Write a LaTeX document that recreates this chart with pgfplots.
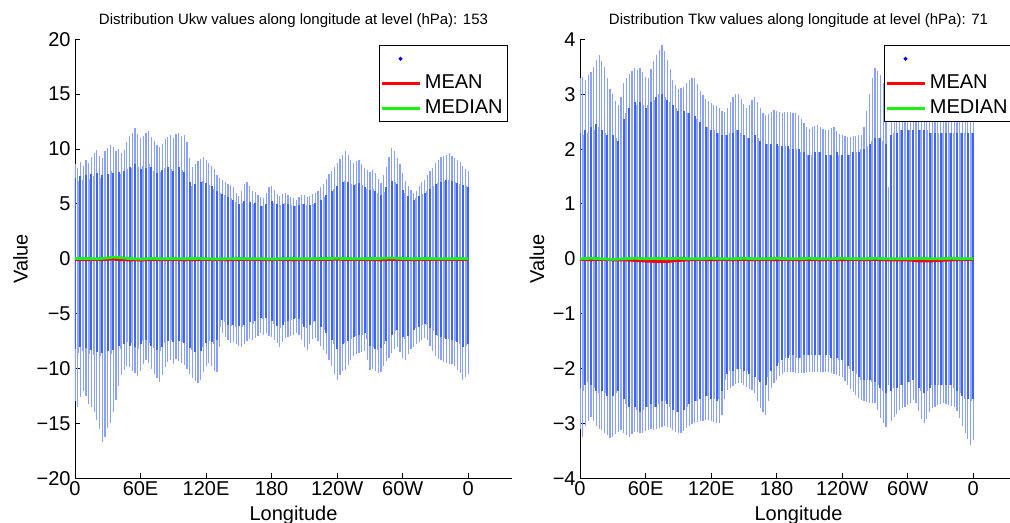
\documentclass[border=0pt]{standalone}
\usepackage{pgfplots}
\pgfplotsset{compat=1.18}
\usepackage{pgfplotstable}
\usepackage{fontspec}
\setmainfont{Liberation Sans}

\definecolor{dotfar}{RGB}{140,160,255}
\definecolor{dotA}{RGB}{62,100,246}
\definecolor{dotB}{RGB}{145,165,252}
\definecolor{mlred}{RGB}{255,0,0}
\definecolor{mlgreen}{RGB}{30,240,20}

\newcommand{\tickfont}{\fontsize{10bp}{12bp}\selectfont}
\newcommand{\titlefont}{\fontsize{7.5bp}{9bp}\selectfont}

% per longitude: outer max, dense top, dense bottom, outer min
\pgfplotstableread{
lon hi chi clo lo
0 8.6 7.4 -8.2 -13.0
2.5 8.3 7.1 -8.6 -13.5
5 8.8 7.5 -8.0 -12.6
7.5 8.5 7.2 -8.4 -12.0
10 9.0 7.6 -8.1 -12.5
12.5 8.7 7.3 -8.7 -13.2
15 9.3 7.7 -8.3 -13.5
17.5 9.6 7.5 -8.8 -14.0
20 9.9 7.8 -8.5 -14.7
22.5 9.4 7.4 -8.9 -15.5
25 9.2 7.6 -8.6 -16.7
27.5 9.8 7.9 -8.8 -16.2
30 10.1 7.7 -8.4 -15.4
32.5 10.4 8.0 -8.7 -15.0
35 10.2 7.8 -8.3 -14.0
37.5 9.8 7.6 -8.1 -12.9
40 10.0 7.9 -7.9 -11.6
42.5 9.6 7.7 -8.2 -10.6
45 9.9 8.0 -7.8 -10.1
47.5 10.6 8.2 -7.6 -9.8
50 11.2 8.4 -7.9 -9.9
52.5 11.5 8.3 -7.7 -10.2
55 11.9 8.6 -8.0 -10.4
57.5 11.4 8.4 -8.2 -10.7
60 11.0 8.2 -7.8 -10.2
62.5 11.2 8.5 -7.5 -9.6
65 11.5 8.3 -7.4 -9.2
67.5 11.6 8.6 -7.7 -9.5
70 11.1 8.4 -7.9 -10.0
72.5 10.7 8.0 -8.1 -10.5
75 10.4 7.8 -8.3 -10.9
77.5 10.2 7.9 -8.4 -11.2
80 10.5 8.1 -8.0 -10.6
82.5 10.9 8.3 -7.7 -9.9
85 11.1 8.4 -7.5 -9.4
87.5 11.3 8.2 -7.4 -9.2
90 11.0 8.0 -7.6 -9.6
92.5 11.4 8.3 -7.3 -9.1
95 11.5 8.4 -7.5 -9.3
97.5 11.2 8.1 -7.6 -9.5
100 11.3 7.9 -7.7 -9.7
102.5 10.6 7.5 -7.9 -10.0
105 9.2 7.0 -8.1 -10.5
107.5 8.4 6.6 -8.3 -10.9
110 8.6 6.8 -8.5 -11.1
112.5 8.9 6.9 -8.6 -11.3
115 9.1 7.0 -8.4 -11.0
117.5 9.3 7.1 -8.0 -10.3
120 9.0 6.9 -7.7 -9.8
122.5 8.7 6.7 -7.5 -9.5
125 8.5 6.6 -7.6 -9.8
127.5 8.2 6.4 -7.8 -10.2
130 7.6 6.2 -7.4 -10.3
132.5 7.4 6.0 -6.2 -8.0
135 7.2 5.9 -5.6 -6.8
137.5 7.0 5.8 -5.8 -7.1
140 6.8 5.6 -6.0 -7.4
142.5 6.7 5.5 -6.1 -7.7
145 6.5 5.4 -6.0 -7.6
147.5 6.0 5.2 -6.2 -7.8
150 5.7 5.0 -6.1 -7.9
152.5 6.2 5.1 -6.2 -8.0
155 6.8 5.3 -6.0 -7.8
157.5 7.0 5.4 -5.9 -7.5
160 6.6 5.2 -5.8 -7.3
162.5 6.2 5.0 -5.9 -7.4
165 6.1 5.1 -5.7 -7.2
167.5 5.8 4.9 -5.6 -7.0
170 5.6 4.8 -5.4 -6.8
172.5 5.5 4.8 -5.5 -6.9
175 6.0 5.0 -5.4 -6.8
177.5 6.5 5.2 -5.6 -7.0
180 6.6 5.3 -5.7 -7.1
182.5 6.3 5.1 -5.9 -7.4
185 5.9 5.0 -6.1 -7.7
187.5 5.7 4.9 -6.3 -8.0
190 5.9 5.0 -6.0 -7.6
192.5 6.0 5.1 -5.8 -7.2
195 5.8 5.0 -5.7 -7.1
197.5 5.6 4.9 -5.6 -7.0
200 5.5 4.8 -5.5 -6.9
202.5 5.4 4.8 -5.4 -6.8
205 5.6 4.9 -5.5 -6.9
207.5 5.8 5.0 -5.9 -7.4
210 5.8 5.0 -6.2 -8.0
212.5 5.6 4.9 -6.3 -8.3
215 5.7 4.9 -6.0 -7.8
217.5 5.9 5.0 -5.8 -7.3
220 6.0 5.1 -5.7 -7.2
222.5 6.2 5.2 -5.9 -7.5
225 6.5 5.4 -6.2 -7.9
227.5 6.8 5.6 -6.5 -8.3
230 7.3 5.8 -6.8 -8.7
232.5 7.7 6.0 -7.1 -9.2
235 8.0 6.2 -7.4 -9.8
237.5 8.4 6.4 -7.8 -10.5
240 8.7 6.6 -8.2 -11.0
242.5 9.1 6.8 -8.0 -10.6
245 9.5 7.0 -7.8 -10.2
247.5 9.8 7.1 -7.7 -10.1
250 9.5 7.0 -7.5 -9.7
252.5 9.0 6.8 -7.3 -9.2
255 8.7 6.7 -7.1 -8.9
257.5 8.9 6.8 -7.0 -8.7
260 9.0 6.9 -6.9 -8.6
262.5 8.6 6.7 -6.9 -8.5
265 8.3 6.5 -6.8 -8.4
267.5 8.1 6.4 -7.3 -9.2
270 7.9 6.3 -7.9 -10.1
272.5 8.1 6.4 -8.0 -10.0
275 7.8 6.2 -8.2 -10.2
277.5 7.3 6.0 -8.3 -10.4
280 6.9 5.8 -8.1 -10.3
282.5 7.6 6.1 -7.8 -9.8
285 8.4 6.5 -7.5 -9.3
287.5 9.3 6.8 -7.2 -9.0
290 10.1 7.1 -6.9 -8.6
292.5 9.8 7.0 -6.6 -8.2
295 9.2 6.8 -6.5 -8.0
297.5 8.6 6.6 -6.8 -8.5
300 7.8 6.3 -7.1 -9.0
302.5 7.1 6.0 -7.3 -9.2
305 6.6 5.7 -7.0 -8.7
307.5 6.3 5.5 -6.7 -8.2
310 6.0 5.4 -6.5 -8.0
312.5 6.2 5.5 -6.3 -7.8
315 6.6 5.7 -6.2 -7.6
317.5 7.0 5.9 -6.0 -7.4
320 7.2 6.0 -5.9 -7.2
322.5 7.6 6.2 -6.0 -7.4
325 8.0 6.4 -6.3 -7.9
327.5 8.3 6.6 -6.6 -8.4
330 8.7 6.8 -6.9 -8.9
332.5 9.0 6.9 -7.0 -9.1
335 9.3 7.0 -7.1 -9.2
337.5 9.4 7.1 -7.2 -9.4
340 9.5 7.2 -7.3 -9.5
342.5 9.6 7.2 -7.3 -9.6
345 9.4 7.1 -7.4 -9.6
347.5 9.2 7.0 -7.5 -9.8
350 9.0 6.9 -7.6 -10.1
352.5 8.8 6.8 -7.8 -10.4
355 8.5 6.7 -8.0 -11.0
357.5 8.2 6.6 -7.9 -10.8
360 8.0 6.5 -7.8 -10.5
}\ukw

\pgfplotstableread{
lon hi chi clo lo
0 3.30 2.30 -2.35 -3.10
2.5 3.32 2.25 -2.40 -3.24
5 3.25 2.35 -2.30 -3.05
7.5 3.35 2.30 -2.25 -2.95
10 3.41 2.40 -2.30 -2.88
12.5 3.50 2.35 -2.35 -2.95
15 3.62 2.45 -2.40 -3.05
17.5 3.71 2.40 -2.45 -3.10
20 3.60 2.35 -2.40 -3.12
22.5 3.49 2.30 -2.45 -3.18
25 3.30 2.25 -2.50 -3.22
27.5 3.10 2.20 -2.55 -3.27
30 3.00 2.25 -2.50 -3.25
32.5 2.88 2.20 -2.45 -3.20
35 2.80 2.15 -2.40 -3.15
37.5 2.95 2.30 -2.45 -3.12
40 3.20 2.55 -2.55 -3.18
42.5 3.30 2.65 -2.65 -3.22
45 3.36 2.75 -2.70 -3.24
47.5 3.42 2.80 -2.75 -3.20
50 3.47 2.85 -2.70 -3.15
52.5 3.44 2.80 -2.75 -3.16
55 3.47 2.85 -2.80 -3.18
57.5 3.40 2.80 -2.75 -3.17
60 3.32 2.75 -2.70 -3.14
62.5 3.29 2.80 -2.70 -3.12
65 3.45 2.85 -2.65 -3.10
67.5 3.60 2.90 -2.70 -3.12
70 3.71 2.95 -2.70 -3.11
72.5 3.80 3.00 -2.65 -3.09
75 3.89 3.00 -2.60 -3.07
77.5 3.78 2.95 -2.60 -3.05
80 3.62 2.90 -2.65 -3.06
82.5 3.45 2.85 -2.70 -3.08
85 3.25 2.80 -2.75 -3.12
87.5 3.16 2.75 -2.80 -3.15
90 3.10 2.70 -2.80 -3.17
92.5 3.12 2.70 -2.80 -3.18
95 3.14 2.70 -2.75 -3.14
97.5 3.20 2.65 -2.70 -3.08
100 3.25 2.65 -2.65 -3.04
102.5 3.29 2.60 -2.65 -3.01
105 3.29 2.60 -2.60 -3.00
107.5 3.18 2.55 -2.60 -2.98
110 3.06 2.50 -2.55 -2.96
112.5 2.98 2.45 -2.55 -2.95
115 2.92 2.40 -2.50 -2.94
117.5 2.88 2.40 -2.50 -2.94
120 2.84 2.35 -2.55 -2.96
122.5 2.80 2.35 -2.55 -2.98
125 2.78 2.30 -2.60 -3.00
127.5 2.74 2.30 -2.55 -3.00
130 2.70 2.25 -2.40 -2.85
132.5 2.68 2.25 -2.20 -2.55
135 2.75 2.25 -2.10 -2.39
137.5 2.85 2.30 -2.05 -2.35
140 2.94 2.30 -2.05 -2.31
142.5 3.00 2.35 -2.00 -2.28
145 3.01 2.35 -2.00 -2.27
147.5 2.92 2.30 -2.00 -2.27
150 2.82 2.25 -2.05 -2.30
152.5 2.74 2.20 -2.05 -2.34
155 2.80 2.20 -2.10 -2.37
157.5 2.90 2.25 -2.10 -2.39
160 2.95 2.25 -2.15 -2.45
162.5 2.85 2.20 -2.20 -2.60
165 2.74 2.15 -2.25 -2.72
167.5 2.66 2.15 -2.30 -2.80
170 2.62 2.10 -2.30 -2.85
172.5 2.64 2.10 -2.15 -2.60
175 2.68 2.10 -2.05 -2.35
177.5 2.71 2.10 -2.00 -2.27
180 2.70 2.10 -1.95 -2.20
182.5 2.68 2.05 -1.90 -2.14
185 2.66 2.05 -1.85 -2.10
187.5 2.67 2.05 -1.80 -2.07
190 2.68 2.05 -1.80 -2.06
192.5 2.68 2.00 -1.75 -2.06
195 2.66 2.00 -1.75 -2.07
197.5 2.65 2.00 -1.80 -2.08
200 2.62 2.00 -1.80 -2.09
202.5 2.55 1.95 -1.80 -2.09
205 2.47 1.95 -1.75 -2.08
207.5 2.40 1.90 -1.75 -2.07
210 2.37 1.90 -1.75 -2.06
212.5 2.40 1.90 -1.75 -2.06
215 2.42 1.95 -1.75 -2.06
217.5 2.43 1.95 -1.75 -2.06
220 2.40 1.95 -1.75 -2.06
222.5 2.37 1.95 -1.75 -2.06
225 2.35 1.90 -1.75 -2.06
227.5 2.34 1.90 -1.75 -2.06
230 2.38 1.90 -1.80 -2.08
232.5 2.40 1.95 -1.80 -2.10
235 2.33 1.95 -1.80 -2.12
237.5 2.28 1.90 -1.85 -2.14
240 2.25 1.90 -1.85 -2.16
242.5 2.24 1.90 -1.90 -2.22
245 2.22 1.90 -1.95 -2.30
247.5 2.22 1.90 -2.00 -2.38
250 2.23 1.95 -2.05 -2.43
252.5 2.24 1.95 -2.10 -2.48
255 2.25 1.95 -2.15 -2.53
257.5 2.26 2.00 -2.20 -2.57
260 2.40 2.00 -2.20 -2.60
262.5 2.70 2.05 -2.20 -2.61
265 3.00 2.10 -2.20 -2.62
267.5 3.30 2.15 -2.25 -2.63
270 3.47 2.20 -2.25 -2.63
272.5 3.42 2.20 -2.30 -2.75
275 3.35 2.20 -2.35 -2.90
277.5 3.20 2.15 -2.40 -3.00
280 2.70 2.10 -2.45 -3.06
282.5 1.30 0 0 -2.30
285 2.60 2.25 -2.40 -2.95
287.5 2.70 2.30 -2.35 -2.88
290 2.75 2.30 -2.35 -2.82
292.5 2.78 2.35 -2.30 -2.76
295 2.80 2.35 -2.30 -2.72
297.5 2.82 2.35 -2.30 -2.70
300 2.84 2.35 -2.25 -2.66
302.5 2.85 2.35 -2.25 -2.62
305 2.86 2.35 -2.20 -2.58
307.5 2.86 2.35 -2.25 -2.62
310 2.86 2.35 -2.35 -2.78
312.5 2.85 2.35 -2.40 -2.92
315 2.84 2.35 -2.45 -3.00
317.5 2.82 2.35 -2.40 -2.92
320 2.80 2.30 -2.35 -2.80
322.5 2.80 2.30 -2.30 -2.72
325 2.80 2.30 -2.30 -2.70
327.5 2.80 2.30 -2.30 -2.67
330 2.80 2.30 -2.30 -2.64
332.5 2.80 2.30 -2.30 -2.63
335 2.80 2.30 -2.30 -2.64
337.5 2.80 2.30 -2.30 -2.67
340 2.80 2.30 -2.30 -2.69
342.5 2.80 2.30 -2.35 -2.70
345 2.80 2.30 -2.40 -2.78
347.5 2.80 2.30 -2.45 -2.90
350 2.80 2.30 -2.50 -3.05
352.5 2.80 2.30 -2.55 -3.18
355 2.80 2.30 -2.55 -3.28
357.5 2.80 2.30 -2.60 -3.39
360 2.80 2.30 -2.55 -3.30
}\tkw

\pgfplotstableread{
lon mean med
0 -0.05 0.02
10 -0.08 0.03
20 -0.06 0.00
30 -0.05 0.08
35 -0.03 0.15
40 -0.08 0.12
50 -0.10 0.02
60 -0.12 -0.03
70 -0.06 0.03
80 -0.09 0.00
90 -0.05 0.02
100 -0.10 0.00
110 -0.07 0.03
120 -0.06 0.01
130 -0.08 -0.02
140 -0.10 0.00
150 -0.06 0.02
160 -0.05 0.00
170 -0.07 0.01
180 -0.08 -0.02
190 -0.06 0.00
200 -0.10 0.02
210 -0.07 0.00
220 -0.05 0.01
230 -0.06 0.03
240 -0.04 0.05
250 -0.07 0.02
260 -0.06 0.00
270 -0.08 0.02
280 -0.10 0.04
290 -0.06 0.08
300 -0.05 0.03
310 -0.08 0.00
320 -0.06 0.02
330 -0.05 0.01
340 -0.07 0.00
350 -0.06 0.02
360 -0.05 0.01
}\ukwstat

\pgfplotstableread{
lon mean med
0 -0.01 0.00
10 -0.02 0.01
20 -0.01 0.00
30 -0.02 -0.01
40 -0.02 0.00
50 -0.03 0.01
60 -0.04 0.00
70 -0.05 0.01
80 -0.05 0.00
90 -0.03 0.01
100 -0.02 0.00
110 -0.01 0.00
120 -0.02 0.01
130 -0.01 0.00
140 -0.02 0.00
150 -0.01 0.01
160 -0.02 0.00
170 -0.01 0.00
180 -0.02 0.01
190 -0.01 0.00
200 -0.02 0.00
210 -0.01 0.01
220 -0.02 0.00
230 -0.01 0.00
240 -0.02 0.01
250 -0.01 0.00
260 -0.02 0.00
270 -0.01 0.01
280 -0.02 0.00
290 -0.02 0.00
300 -0.02 0.00
310 -0.04 0.01
320 -0.04 0.00
330 -0.03 0.00
340 -0.02 0.01
350 -0.01 0.00
360 -0.01 0.00
}\tkwstat

\pgfplotsset{
  mlaxis/.style={
    scale only axis, width=218.5bp, height=219.5bp,
    xmin=0, xmax=400, clip mode=individual,
    axis x line*=bottom, axis y line*=left,
    axis line style={line width=0.5bp, black},
    xtick={0,60,...,360}, xticklabels={0,60E,120E,180,120W,60W,0},
    tick align=inside, major tick length=2.5bp,
    tick style={line width=0.5bp, black},
    ticklabel style={font=\tickfont},
    xticklabel style={inner sep=0pt, yshift=-1.6bp},
    yticklabel style={inner sep=0pt, xshift=-2bp},
    xlabel=Longitude, ylabel=Value,
    label style={font=\tickfont},
    xlabel style={at={(axis description cs:0.5,-0.097)}, anchor=base},
    legend style={at={(0.991,0.987)}, anchor=north east, draw=black, fill=white,
      font=\tickfont, legend cell align=left, inner xsep=0.5bp, inner ysep=0.5bp},
  },
  farbars/.style={forget plot, draw=none, mark=none,
    error bars/.cd, y dir=both, y explicit, error mark=none,
    error bar style={draw=dotfar, line width=0.6bp}},
  corebars/.style={forget plot, draw=none, mark=none,
    error bars/.cd, y dir=both, y explicit, error mark=none,
    error bar style={draw=#1, line width=1.0bp}},
  statline/.style={#1, line width=1.4bp, mark=none,
    legend image code/.code={\draw[##1] (0bp,0bp) -- (19bp,0bp);}},
}

\begin{document}
\begin{tikzpicture}
\begin{axis}[mlaxis, at={(37.5bp,22.35bp)}, anchor=south west,
  ymin=-20, ymax=20, ytick={-20,-15,...,20},
  yticklabels={−20,−15,−10,−5,0,5,10,15,20},
  ylabel style={at={(axis description cs:-0.1247,0.5)}, anchor=center}]
\addplot[farbars] table[x=lon, y expr=0, y error plus expr=\thisrow{hi}, y error minus expr=-\thisrow{lo}] {\ukw};
\addplot[restrict expr to domain={mod(\coordindex,2)}{0:0}, corebars=dotA] table[x=lon, y expr=0, y error plus expr=\thisrow{chi}, y error minus expr=-\thisrow{clo}] {\ukw};
\addplot[restrict expr to domain={mod(\coordindex,2)}{1:1}, corebars=dotB] table[x=lon, y expr=0, y error plus expr=\thisrow{chi}, y error minus expr=-\thisrow{clo}] {\ukw};
\addlegendimage{legend image code/.code={\fill[blue] (9.5bp,0bp) circle (0.75bp);}}
\addlegendentry{\vphantom{M}}
\addplot[statline=mlred] table[x=lon, y=mean] {\ukwstat};
\addlegendentry{MEAN}
\addplot[statline=mlgreen] table[x=lon, y=med] {\ukwstat};
\addlegendentry{MEDIAN}
\node[font=\titlefont, anchor=base] at (axis description cs:0.5,1.033)
  {Distribution Ukw values along longitude at level (hPa): 153};
\end{axis}

\begin{axis}[mlaxis, at={(290bp,22.35bp)}, anchor=south west,
  ymin=-4, ymax=4, ytick={-4,-3,...,4},
  yticklabels={−4,−3,−2,−1,0,1,2,3,4},
  ylabel style={at={(axis description cs:-0.0986,0.5)}, anchor=center}]
\addplot[farbars] table[x=lon, y expr=0, y error plus expr=\thisrow{hi}, y error minus expr=-\thisrow{lo}] {\tkw};
\addplot[restrict expr to domain={mod(\coordindex,2)}{0:0}, corebars=dotA] table[x=lon, y expr=0, y error plus expr=\thisrow{chi}, y error minus expr=-\thisrow{clo}] {\tkw};
\addplot[restrict expr to domain={mod(\coordindex,2)}{1:1}, corebars=dotB] table[x=lon, y expr=0, y error plus expr=\thisrow{chi}, y error minus expr=-\thisrow{clo}] {\tkw};
\addlegendimage{legend image code/.code={\fill[blue] (9.5bp,0bp) circle (0.75bp);}}
\addlegendentry{\vphantom{M}}
\addplot[statline=mlred] table[x=lon, y=mean] {\tkwstat};
\addlegendentry{MEAN}
\addplot[statline=mlgreen] table[x=lon, y=med] {\tkwstat};
\addlegendentry{MEDIAN}
\node[font=\titlefont, anchor=base] at (axis description cs:0.5,1.033)
  {Distribution Tkw values along longitude at level (hPa): 71};
\end{axis}
\pgfresetboundingbox
\useasboundingbox (0,0) rectangle (505bp,261.5bp);
\end{tikzpicture}
\end{document}
